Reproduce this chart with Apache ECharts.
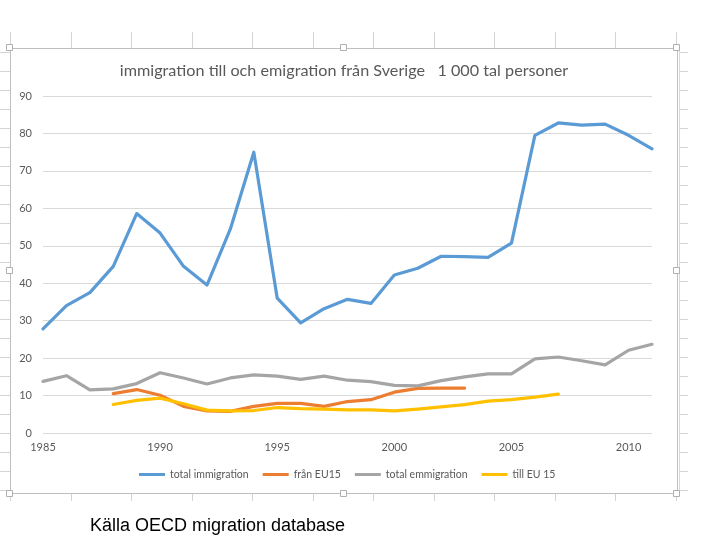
<!DOCTYPE html>
<html>
<head>
<meta charset="utf-8">
<script src="https://cdn.jsdelivr.net/npm/echarts@6/dist/echarts.min.js"></script>
<style>
  html, body { margin: 0; padding: 0; background: #fff; }
  #chart { width: 720px; height: 540px; }
</style>
</head>
<body>
<div id="chart"></div>
<script>
// years on the x axis
var years = [];
for (var y = 1985; y <= 2011; y++) { years.push(String(y)); }

// values, 1000s of persons
var totalImmigration = [27.8, 34.0, 37.5, 44.5, 58.6, 53.4, 44.5, 39.5, 54.5, 75.0,
    36.0, 29.4, 33.2, 35.7, 34.6, 42.2, 44.0, 47.2, 47.1, 46.9,
    50.7, 79.5, 82.8, 82.2, 82.5, 79.5, 75.9];
var franEU15 = ['-', '-', '-', 10.5, 11.6, 10.1, 7.1, 5.9, 5.8, 7.1,
    7.9, 7.9, 7.1, 8.4, 8.9, 10.9, 11.9, 12.0, 12.0, '-',
    '-', '-', '-', '-', '-', '-', '-'];
var totalEmmigration = [13.8, 15.3, 11.5, 11.8, 13.2, 16.1, 14.7, 13.1, 14.7, 15.5,
    15.2, 14.3, 15.2, 14.1, 13.7, 12.7, 12.6, 14.0, 15.0, 15.8,
    15.8, 19.8, 20.3, 19.3, 18.2, 22.1, 23.7];
var tillEU15 = ['-', '-', '-', 7.6, 8.7, 9.3, 7.8, 6.1, 5.9, 6.0,
    6.8, 6.5, 6.4, 6.2, 6.2, 5.9, 6.4, 7.0, 7.6, 8.5,
    8.9, 9.6, 10.4, '-', '-', '-', '-'];

var seriesNames = ['total immigration', 'från EU15', 'total emmigration', 'till EU 15'];
var seriesColors = ['#5B9BD5', '#ED7D31', '#A5A5A5', '#FFC000'];
var yTicks = [0, 90, 10];  // min, max, step

var calibri = 'Lato, "Open Sans", sans-serif';

// spreadsheet cell lines round the chart box (decoration only)
function sheetLines() {
    var els = [];
    var k, x, yy;
    for (k = 0; k <= 11; k++) {
        x = Math.round(10 + k * 60.5) + 0.5;
        els.push({ type: 'line', silent: true, shape: { x1: x, y1: 32, x2: x, y2: 48 },
            style: { stroke: '#d4d4d4', lineWidth: 1 } });
        els.push({ type: 'line', silent: true, shape: { x1: x, y1: 494, x2: x, y2: 501 },
            style: { stroke: '#d4d4d4', lineWidth: 1 } });
    }
    for (k = 0; k <= 23; k++) {
        yy = Math.round(52 + k * 19.05) + 0.5;
        els.push({ type: 'line', silent: true, shape: { x1: 0, y1: yy, x2: 10, y2: yy },
            style: { stroke: '#d4d4d4', lineWidth: 1 } });
        els.push({ type: 'line', silent: true, shape: { x1: 679, y1: yy, x2: 688, y2: yy },
            style: { stroke: '#d4d4d4', lineWidth: 1 } });
    }
    // chart box
    els.push({ type: 'rect', silent: true, shape: { x: 10.5, y: 48.5, width: 667, height: 445 },
        style: { fill: null, stroke: '#bfbfbf', lineWidth: 1 } });
    els.push({ type: 'line', silent: true, shape: { x1: 679.5, y1: 48, x2: 679.5, y2: 494 },
        style: { stroke: '#d9d9d9', lineWidth: 1 } });
    // sizing handles
    var handles = [[10, 48], [344, 48], [677, 48], [10, 271], [677, 271], [10, 494], [344, 494], [677, 494]];
    handles.forEach(function (h) {
        els.push({ type: 'rect', silent: true, shape: { x: h[0] - 3.5, y: h[1] - 3.5, width: 6, height: 6 },
            style: { fill: '#fff', stroke: '#b0b0b0', lineWidth: 1 } });
    });
    return els;
}

var chart = echarts.init(document.getElementById('chart'), null, { renderer: 'canvas' });

var series = [totalImmigration, franEU15, totalEmmigration, tillEU15].map(function (d, i) {
    return {
        name: seriesNames[i],
        type: 'line',
        data: d,
        showSymbol: false,
        symbol: 'none',
        connectNulls: false,
        lineStyle: { color: seriesColors[i], width: 3.2, join: 'round', cap: 'round' },
        itemStyle: { color: seriesColors[i] }
    };
});

var option = {
    animation: false,
    backgroundColor: '#fff',
    title: [{
        text: 'immigration till och emigration från Sverige   1 000 tal personer',
        left: 344,
        top: 63,
        padding: 0,
        textAlign: 'center',
        textStyle: { fontFamily: calibri, fontSize: 16.2, fontWeight: 'normal', color: '#595959' }
    }, {
        text: 'Källa OECD migration database',
        left: 90,
        top: 517,
        padding: 0,
        textStyle: { fontFamily: '"Liberation Sans", Arial, sans-serif', fontSize: 18, fontWeight: 'normal', color: '#000' }
    }],
    legend: {
        data: seriesNames,
        left: 139,
        top: 469,
        padding: 0,
        icon: 'rect',
        itemWidth: 26,
        itemHeight: 3,
        itemGap: 14,
        textStyle: { fontFamily: calibri, fontSize: 10.5, color: '#595959' }
    },
    grid: { left: 43, right: 68, top: 96, bottom: 107, containLabel: false },
    xAxis: {
        type: 'category',
        data: years,
        boundaryGap: false,
        axisLine: { show: false },
        axisTick: { show: false },
        axisLabel: { interval: 4, margin: 9, fontFamily: calibri, fontSize: 11, color: '#595959' }
    },
    yAxis: {
        type: 'value',
        min: yTicks[0],
        max: yTicks[1],
        interval: yTicks[2],
        axisLine: { show: false },
        axisTick: { show: false },
        axisLabel: { margin: 11, fontFamily: calibri, fontSize: 11, color: '#595959' },
        splitLine: { lineStyle: { color: '#d9d9d9', width: 1 } }
    },
    graphic: sheetLines(),
    series: series
};

chart.setOption(option);
</script>
</body>
</html>
